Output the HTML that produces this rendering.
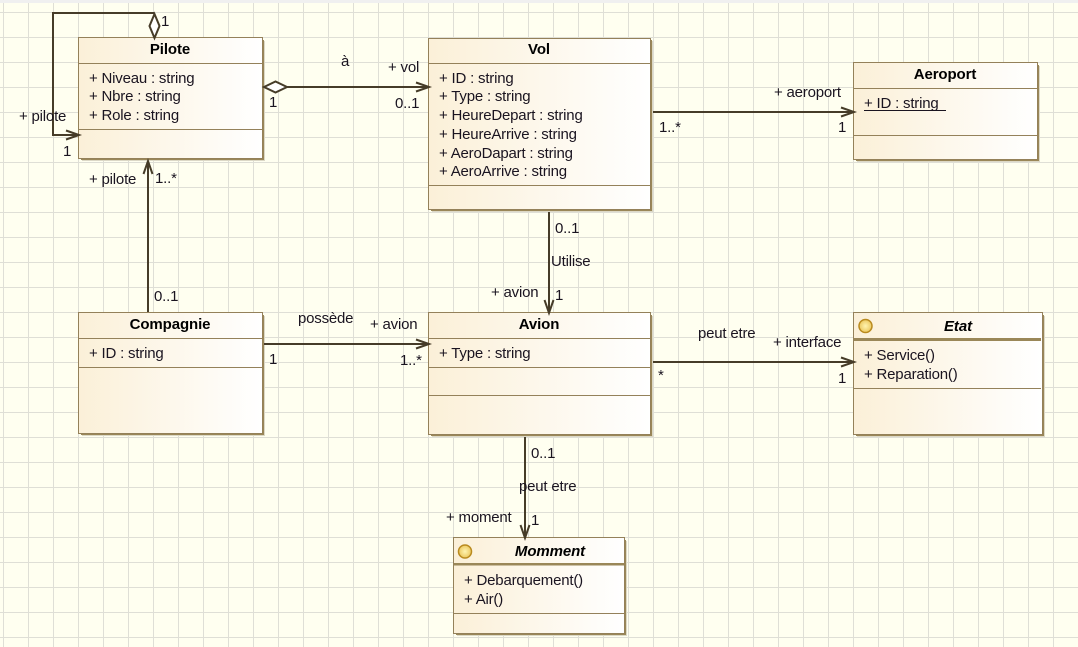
<!DOCTYPE html>
<html><head><meta charset="utf-8">
<style>
html,body{margin:0;padding:0;background:#fffff0}
svg{display:block}
text{font-family:"Liberation Sans",sans-serif;font-size:15px;letter-spacing:-.2px;fill:#1a1420}
.b{font-weight:bold;fill:#000;letter-spacing:-.1px}
.bi{font-weight:bold;font-style:italic;fill:#000;letter-spacing:-.1px}
.c{fill:none;stroke:#463c28;stroke-width:2}
.s{fill:#9a8758}
.l{fill:#dcd8c6}
.box{fill:url(#g);stroke:#94815a;stroke-width:1}
.d{stroke:#94815a;stroke-width:1}
.grid{stroke:#dfdfd6;stroke-width:1}
</style></head><body>
<svg width="1078" height="647" viewBox="0 0 1078 647" xmlns="http://www.w3.org/2000/svg">
<defs>
<linearGradient id="g" x1="0" x2="1" y1="0" y2="0"><stop offset="0" stop-color="#fbf0d8"/><stop offset="1" stop-color="#ffffff"/></linearGradient>
<radialGradient id="o" cx=".5" cy=".5" r=".6"><stop offset="0" stop-color="#fff4b0"/><stop offset="1" stop-color="#e8c050"/></radialGradient>
<pattern id="p" x="3" y="12" width="25" height="25" patternUnits="userSpaceOnUse">
<path d="M.5 0V25M0 .5H25" class="grid" fill="none"/>
</pattern>
</defs>
<rect width="1078" height="647" fill="#fffff0"/>
<rect width="1078" height="647" fill="url(#p)"/>
<rect width="1078" height="3" fill="#f0f0f0"/>

<!-- Pilote -->
<rect x="82" y="41" width="183" height="120" class="l"/>
<rect x="81" y="40" width="183" height="120" class="s"/>
<rect x="78.500" y="37.500" width="184" height="121" class="box"/>
<path d="M79 63.500H262M79 129.500H262" class="d"/>
<text x="170" y="54" text-anchor="middle" class="b">Pilote</text>
<text x="89" y="83">+ Niveau : string</text>
<text x="89" y="101">+ Nbre : string</text>
<text x="89" y="120">+ Role : string</text>

<!-- Vol -->
<rect x="432" y="41" width="221" height="171" class="l"/>
<rect x="431" y="40" width="221" height="171" class="s"/>
<rect x="428.500" y="38.500" width="222" height="171" class="box"/>
<path d="M429 63.500H650M429 185.500H650" class="d"/>
<text x="539" y="54" text-anchor="middle" class="b">Vol</text>
<text x="439" y="83">+ ID : string</text>
<text x="439" y="101">+ Type : string</text>
<text x="439" y="120">+ HeureDepart : string</text>
<text x="439" y="139">+ HeureArrive : string</text>
<text x="439" y="158">+ AeroDapart : string</text>
<text x="439" y="176">+ AeroArrive : string</text>

<!-- Aeroport -->
<rect x="857" y="66" width="183" height="96" class="l"/>
<rect x="856" y="65" width="183" height="96" class="s"/>
<rect x="853.500" y="62.500" width="184" height="97" class="box"/>
<path d="M854 88.500H1037M854 135.500H1037" class="d"/>
<text x="945" y="79" text-anchor="middle" class="b">Aeroport</text>
<text x="864" y="108">+ ID : string</text>
<path d="M864 110.500H946" stroke="#1a1420" stroke-width="1"/>

<!-- Compagnie -->
<rect x="82" y="316" width="183" height="120" class="l"/>
<rect x="81" y="315" width="183" height="120" class="s"/>
<rect x="78.500" y="312.500" width="184" height="121" class="box"/>
<path d="M79 338.500H262M79 367.500H262" class="d"/>
<text x="170" y="329" text-anchor="middle" class="b">Compagnie</text>
<text x="89" y="358">+ ID : string</text>

<!-- Avion -->
<rect x="432" y="316" width="221" height="121" class="l"/>
<rect x="431" y="315" width="221" height="121" class="s"/>
<rect x="428.500" y="312.500" width="222" height="122" class="box"/>
<path d="M429 338.500H650M429 367.500H650M429 395.500H650" class="d"/>
<text x="539" y="329" text-anchor="middle" class="b">Avion</text>
<text x="439" y="358">+ Type : string</text>

<!-- Etat -->
<rect x="857" y="316" width="188" height="121" class="l"/>
<rect x="856" y="315" width="188" height="121" class="s"/>
<rect x="853.500" y="312.500" width="189" height="122" class="box"/>
<rect x="854" y="338" width="187" height="3" fill="#9a8758"/>
<path d="M854 388.500H1041" class="d"/>
<circle cx="865.500" cy="326" r="6.500" fill="url(#o)" stroke="#b98a1e" stroke-width="1.500"/>
<text x="958" y="331" text-anchor="middle" class="bi">Etat</text>
<text x="864" y="360">+ Service()</text>
<text x="864" y="379">+ Reparation()</text>

<!-- Momment -->
<rect x="457" y="541" width="170" height="95" class="l"/>
<rect x="456" y="540" width="170" height="95" class="s"/>
<rect x="453.500" y="537.500" width="171" height="96" class="box"/>
<rect x="454" y="563" width="170" height="2.500" fill="#9a8758"/>
<path d="M454 613.500H624" class="d"/>
<circle cx="465" cy="551.500" r="6.500" fill="url(#o)" stroke="#b98a1e" stroke-width="1.500"/>
<text x="550" y="556" text-anchor="middle" class="bi">Momment</text>
<text x="464" y="585">+ Debarquement()</text>
<text x="464" y="604">+ Air()</text>

<!-- Connectors -->
<path d="M154 13H53V135H79" class="c"/>
<path d="M66 130.500L79 135L66 139.500" class="c"/>
<path d="M154.500 14L159.500 26L154.500 38L149.500 26Z" fill="#fff" stroke="#463c28" stroke-width="2"/>
<path d="M287 87H428" class="c"/>
<path d="M264 87L275.500 81.500L287 87L275.500 92.500Z" fill="#fff" stroke="#463c28" stroke-width="2"/>
<path d="M416 82.500L429 87L416 91.500" class="c"/>
<path d="M653 112H853" class="c"/>
<path d="M841 107.500L854 112L841 116.500" class="c"/>
<path d="M148 312V162" class="c"/>
<path d="M143.500 174L148 161L152.500 174" class="c"/>
<path d="M264 344H428" class="c"/>
<path d="M416 339.500L429 344L416 348.500" class="c"/>
<path d="M549 212V312" class="c"/>
<path d="M544.500 300L549 313L553.500 300" class="c"/>
<path d="M653 362H853" class="c"/>
<path d="M841 357.500L854 362L841 366.500" class="c"/>
<path d="M525 437V537" class="c"/>
<path d="M520.500 525L525 538L529.500 525" class="c"/>

<!-- Labels -->
<text x="161" y="26">1</text>
<text x="19" y="121">+ pilote</text>
<text x="63" y="156">1</text>
<text x="89" y="184">+ pilote</text>
<text x="155" y="183">1..*</text>
<text x="154" y="301">0..1</text>
<text x="341" y="66">à</text>
<text x="388" y="72">+ vol</text>
<text x="269" y="107">1</text>
<text x="395" y="108">0..1</text>
<text x="774" y="97">+ aeroport</text>
<text x="659" y="132">1..*</text>
<text x="838" y="132">1</text>
<text x="555" y="233">0..1</text>
<text x="551" y="266">Utilise</text>
<text x="491" y="297">+ avion</text>
<text x="555" y="300">1</text>
<text x="298" y="323">possède</text>
<text x="370" y="329">+ avion</text>
<text x="269" y="364">1</text>
<text x="400" y="365">1..*</text>
<text x="698" y="338">peut etre</text>
<text x="773" y="347">+ interface</text>
<text x="658" y="380">*</text>
<text x="838" y="383">1</text>
<text x="531" y="458">0..1</text>
<text x="519" y="491">peut etre</text>
<text x="446" y="522">+ moment</text>
<text x="531" y="525">1</text>
</svg>
</body></html>
